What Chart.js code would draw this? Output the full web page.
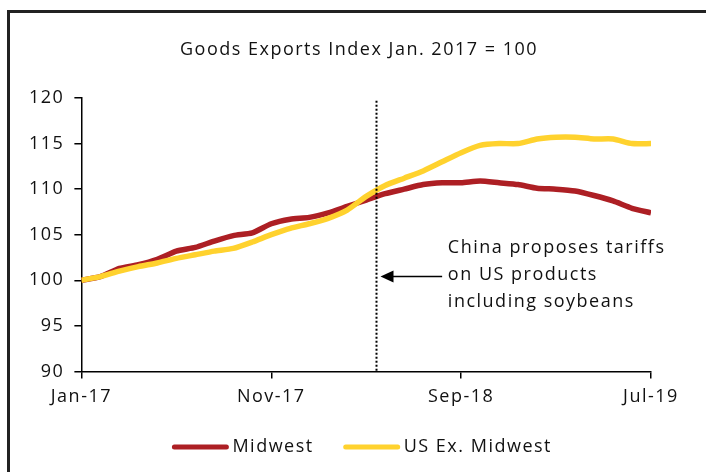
<!DOCTYPE html>
<html>
<head>
<meta charset="utf-8">
<script src="https://cdn.jsdelivr.net/npm/chart.js@4"></script>
<style>
  html,body{margin:0;padding:0;background:#fff;}
  #wrap{position:relative;width:706px;height:472px;overflow:hidden;background:#fff;}
  #c{position:absolute;left:0;top:0;}
  .bt{position:absolute;left:7px;top:10px;width:699px;height:3px;background:#222;}
  .bl{position:absolute;left:7px;top:10px;width:3px;height:462px;background:#222;}
</style>
</head>
<body>
<div id="wrap">
  <canvas id="c" width="706" height="472"></canvas>
  <div class="bt"></div><div class="bl"></div>
</div>
<script>
// ---- data ----
const months = ["Jan-17","Feb-17","Mar-17","Apr-17","May-17","Jun-17","Jul-17","Aug-17","Sep-17","Oct-17","Nov-17","Dec-17",
  "Jan-18","Feb-18","Mar-18","Apr-18","May-18","Jun-18","Jul-18","Aug-18","Sep-18","Oct-18","Nov-18","Dec-18",
  "Jan-19","Feb-19","Mar-19","Apr-19","May-19","Jun-19","Jul-19"];
const midwest = [100.0,100.4,101.3,101.7,102.3,103.2,103.6,104.3,104.9,105.2,106.2,106.7,
  106.9,107.4,108.1,108.8,109.5,110.0,110.5,110.7,110.7,110.9,110.7,110.5,
  110.1,110.0,109.8,109.3,108.7,107.9,107.4];
const usExMidwest = [100.0,100.4,101.0,101.5,101.9,102.4,102.8,103.2,103.5,104.2,105.0,105.7,
  106.2,106.8,107.7,109.2,110.4,111.2,112.0,113.0,114.0,114.8,115.0,115.0,
  115.5,115.7,115.7,115.5,115.5,115.0,115.0];
const yTicks = [90,95,100,105,110,115,120];
const xTickEvery = 10;
const eventIndex = 15.5; // China proposes tariffs (early Apr-18)
const titleText = 'Goods Exports Index Jan. 2017 = 100';
const noteLines = ["China proposes tariffs","on US products","including soybeans"];

const FONT = "'Open Sans', 'DejaVu Sans', sans-serif";
const FONT_CSS = "18px " + FONT;
const TRACK = '1.5px';
const RED = '#AD1F24', YEL = '#FFD22E', INK = '#111';

const toPts = arr => arr.map((v,i)=>({x:i,y:v}));

const tracking = {
  id:'tracking',
  beforeUpdate(chart){ chart.ctx.letterSpacing = TRACK; },
  beforeLayout(chart){ chart.ctx.letterSpacing = TRACK; },
  beforeDraw(chart){ chart.ctx.letterSpacing = TRACK; }
};

const annot = {
  id:'annot',
  afterDatasetsDraw(chart){
    const {ctx, chartArea, scales:{x,y}} = chart;
    const px = Math.round(x.getPixelForValue(eventIndex)) + 0.5;
    ctx.save();
    ctx.letterSpacing = TRACK;
    ctx.strokeStyle = '#000';
    ctx.lineWidth = 2;
    ctx.setLineDash([2,2]);
    ctx.beginPath();
    ctx.moveTo(px, y.getPixelForValue(119.7));
    ctx.lineTo(px, chartArea.bottom);
    ctx.stroke();
    ctx.setLineDash([]);
    // arrow
    const ay = y.getPixelForValue(100.4);
    const ax0 = x.getPixelForValue(19.0);
    const ax1 = px + 4;
    ctx.lineWidth = 1.5;
    ctx.beginPath(); ctx.moveTo(ax0, ay); ctx.lineTo(ax1+12, ay); ctx.stroke();
    ctx.fillStyle = '#000';
    ctx.beginPath(); ctx.moveTo(ax1, ay); ctx.lineTo(ax1+13, ay-6); ctx.lineTo(ax1+13, ay+6); ctx.closePath(); ctx.fill();
    // text
    ctx.font = FONT_CSS;
    ctx.fillStyle = INK;
    ctx.textBaseline = 'middle';
    ctx.textAlign = 'left';
    const tx = x.getPixelForValue(19.3);
    const ty0 = y.getPixelForValue(103.5);
    noteLines.forEach((t,k)=>ctx.fillText(t, tx, ty0 + k*27));
    ctx.restore();
  },
  afterDraw(chart){
    const {ctx, chartArea} = chart;
    ctx.save();
    ctx.letterSpacing = TRACK;
    ctx.font = FONT_CSS;
    ctx.fillStyle = INK;
    ctx.textBaseline = 'middle';
    // title
    ctx.textAlign = 'center';
    ctx.fillText(titleText, chart.width/2 + 6, 50);
    // legend
    ctx.textAlign = 'left';
    const sw = 56, gap = 4, itemGap = 30, ly = 447;
    const items = chart.data.datasets.map(d=>({t:d.label, c:d.borderColor, w:ctx.measureText(d.label).width}));
    const total = items.reduce((s,it)=>s+sw+gap+it.w,0) + itemGap*(items.length-1);
    let cx = (chartArea.left+chartArea.right)/2 - 4 - total/2;
    items.forEach(it=>{
      ctx.strokeStyle = it.c; ctx.lineWidth = 5; ctx.lineCap = 'round';
      ctx.beginPath(); ctx.moveTo(cx+2, ly); ctx.lineTo(cx+sw-2, ly); ctx.stroke();
      ctx.fillText(it.t, cx+sw+gap, ly);
      cx += sw+gap+it.w+itemGap;
    });
    ctx.restore();
  }
};

new Chart(document.getElementById('c'), {
  type:'line',
  data:{
    datasets:[
      {label:'Midwest', data:toPts(midwest), borderColor:RED, backgroundColor:RED, borderWidth:5.5, pointRadius:0, tension:0.2, order:2},
      {label:'US Ex. Midwest', data:toPts(usExMidwest), borderColor:YEL, backgroundColor:YEL, borderWidth:5.5, pointRadius:0, tension:0.2, order:1}
    ]
  },
  options:{
    responsive:false,
    animation:false,
    layout:{padding:{left:19, right:55, top:98, bottom:56}},
    plugins:{
      title:{display:false},
      legend:{display:false},
      tooltip:{enabled:false}
    },
    scales:{
      x:{type:'linear', min:0, max:months.length-1,
        ticks:{stepSize:xTickEvery, autoSkip:false, color:INK, font:{family:FONT, size:18}, padding:8, maxRotation:0,
          callback:v=>months[v]},
        afterBuildTicks(s){ s.ticks = months.map((m,i)=>({value:i})).filter(t=>t.value%xTickEvery===0); },
        grid:{drawOnChartArea:false, drawTicks:true, tickLength:7, color:'#000', lineWidth:1.5},
        border:{color:'#000', width:1.5}
      },
      y:{min:yTicks[0], max:yTicks[yTicks.length-1],
        afterBuildTicks(s){ s.ticks = yTicks.map(v=>({value:v})); },
        ticks:{color:INK, font:{family:FONT, size:18}, padding:10},
        grid:{drawOnChartArea:false, drawTicks:true, tickLength:7, color:'#000', lineWidth:1.5},
        border:{color:'#000', width:1.5}
      }
    }
  },
  plugins:[tracking, annot]
});
</script>
</body>
</html>
